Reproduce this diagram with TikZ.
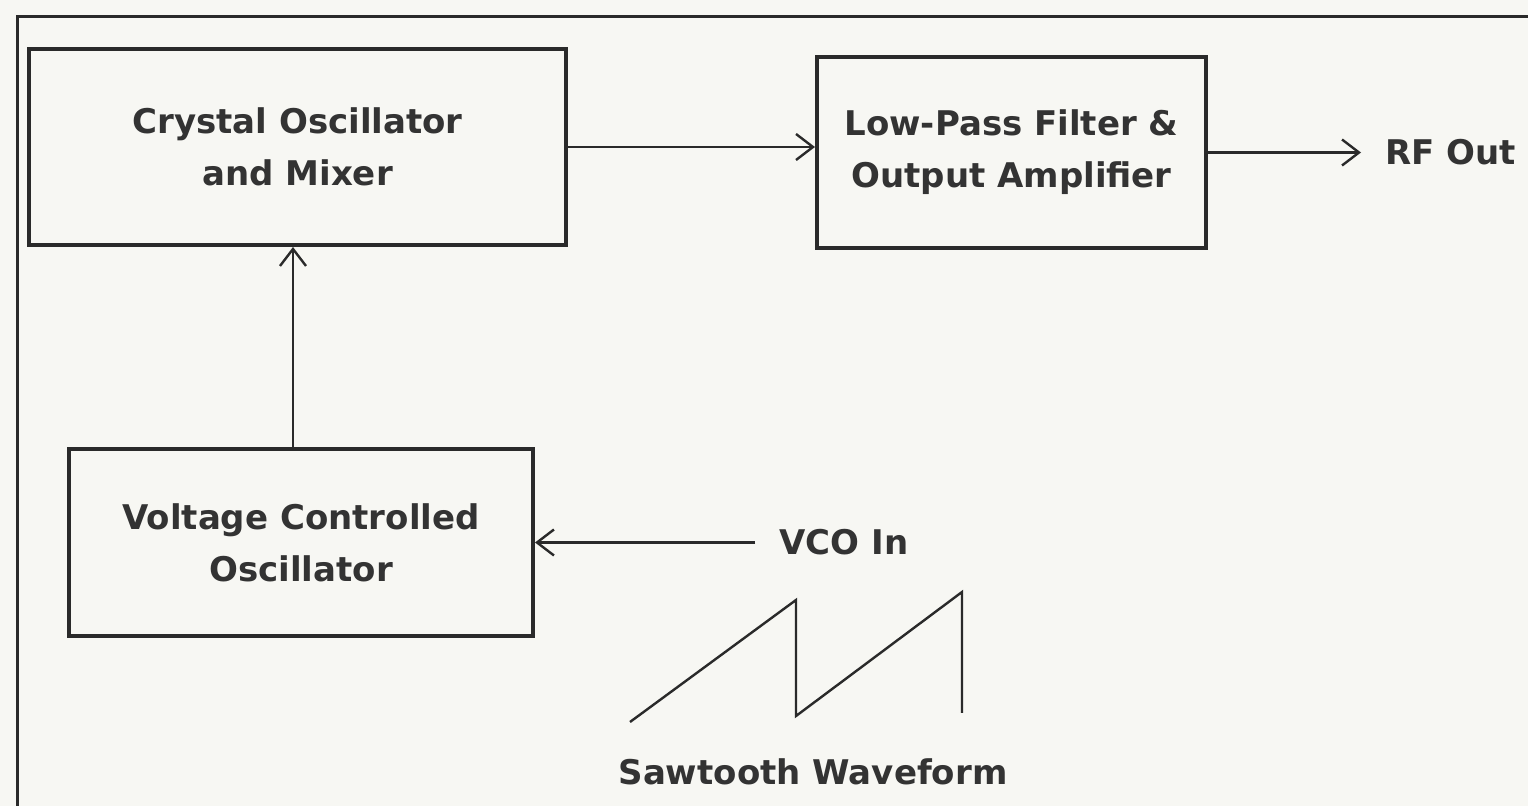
\documentclass[tikz,border=0pt]{standalone}
\usepackage{fontspec}
\setmainfont{DejaVu Sans}
\usepackage{xcolor}
\usepackage{tikz}
\usetikzlibrary{arrows.meta,positioning}
\definecolor{paper}{HTML}{F7F7F3}
\definecolor{ink}{HTML}{2A2A2A}
\definecolor{inktext}{HTML}{333333}
\tikzset{
  block/.style={draw=ink, line width=2pt, align=center, fill=paper, text=inktext, inner sep=0pt, font=\fontsize{17}{26}\selectfont\bfseries},
  signal/.style={text=inktext, inner xsep=12pt, inner ysep=2pt, font=\fontsize{17}{26}\selectfont\bfseries},
  arrow/.style={-{Straight Barb[length=8.5pt, width=13pt]}, line width=1.2pt, draw=ink},
  frame/.style={draw=ink, line width=1.5pt},
  wave/.style={draw=ink, line width=1.2pt, line join=miter}
}
\begin{document}
\begin{tikzpicture}[x=0.5pt, y=-0.5pt, node distance=100pt]
  \fill[paper] (0,0) rectangle (1528,806);
  \useasboundingbox (0,0) rectangle (1528,806);
  \draw[frame] (1540,17) -- (17,17) -- (17,820);

  \node[block, minimum width=268.5pt, minimum height=98pt] at (297.5,147) (xtal) {Crystal Oscillator\\and Mixer};
  \node[block, minimum width=194.5pt, minimum height=95.5pt, right=123.5pt of xtal, yshift=-2.75pt] (lpf) {Low-Pass Filter \&\\Output Amplifier};
  \node[signal, right=76.5pt of lpf] (rfout) {RF Out};
  \node[block, minimum width=232pt, minimum height=93.5pt, below=100pt of xtal, xshift=1.75pt] (vco) {Voltage Controlled\\Oscillator};
  \node[signal, right=110pt of vco] (vcoin) {VCO In};
  \node[signal, inner xsep=0pt] at (813,772) (sawlabel) {Sawtooth Waveform};

  \draw[arrow] (xtal) -- (lpf.west |- xtal);
  \draw[arrow] (lpf) -- (rfout);
  \draw[arrow] (vco.north -| 293,0) -- (xtal.south -| 293,0);
  \draw[arrow] (vcoin) -- (vco);
  \draw[wave] (630,722) -- (796,600) -- (796,716) -- (962,592) -- (962,713);
\end{tikzpicture}
\end{document}
